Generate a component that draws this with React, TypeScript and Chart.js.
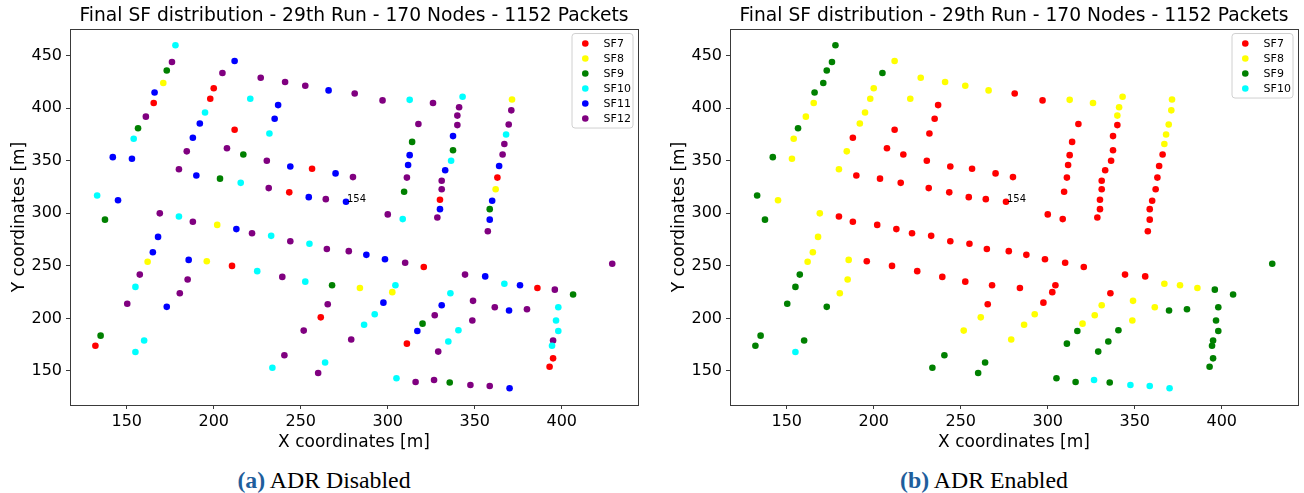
import React, { useEffect, useRef } from "react";
import { Chart, registerables } from "chart.js";

Chart.register(...registerables);

// ---------- data ----------
const nodeX = [
  178, 176, 173, 171, 166, 165.5, 161, 156.5, 154, 142, 153, 133, 145, 137.5, 169, 180, 188,
  212, 205, 200, 198, 195, 192, 188, 184.5, 180, 190, 203.6, 215.5, 231.6, 243.4, 254.6, 264.4, 276,
  227, 241, 252.6, 266, 221, 237, 235, 232, 212, 207.6, 217, 230.5, 244, 256.5, 270,
  281, 297, 312.6, 326, 343, 341, 340, 340, 337.5, 337.5, 336.4, 333, 331, 331, 330, 330, 328.5,
  317.6, 314, 312.6, 311.7, 311, 309.4, 308.6, 280, 300,
  371.4, 371, 369.5, 368, 367, 366, 364, 363, 362, 360, 358.6, 358.6, 357.5,
  202, 213, 222, 233, 244, 255, 265, 277.6,
  168, 165, 162, 157.5, 155, 150.3, 135, 132, 160, 155,
  185.6, 185, 180.5, 173,
  196, 210.5, 225, 239.4, 252.6, 268, 265.5, 261.5, 251.7, 240.6, 233.7, 264, 260, 279,
  287.7, 298.4, 310, 320.7, 429, 344.4, 356, 367, 376, 386, 396, 406.5, 398, 396.7, 398, 395, 394.4, 395, 393,
  284, 302.6, 304.4, 297.5, 292.5, 286.4,
  336, 331, 327, 320, 317, 311,
  349, 361.5, 369.7, 380, 348.6, 340.6, 334.8, 329,
  305, 316, 326.6, 335.6, 347.5, 358.6, 370,
];
const nodeY = [
  460, 444, 436, 424, 415, 405, 392, 381, 371, 353.5, 352, 317, 312.5, 294, 300, 297, 292,
  445, 433.5, 419, 409, 396, 385.5, 372, 359, 342, 336, 333, 329, 324, 320, 315.4, 313.5, 311,
  429, 425, 421.4, 417, 409, 403, 390, 376, 379.5, 362, 356, 350, 344.6, 342.4, 338,
  414, 407.5, 408, 405, 411, 401, 393, 384, 373.5, 360, 350, 341, 331, 323, 313, 304, 296,
  385, 368, 355.4, 346, 334, 320.5, 294.5, 334.5, 299,
  408.4, 398, 384.6, 375, 366, 356, 345, 334, 323, 312, 304, 294, 283,
  289, 285, 281, 278.6, 273.5, 271, 266, 264,
  277.6, 263, 254, 241.7, 230, 214, 183.6, 174, 179, 168,
  255.7, 237, 224, 211,
  254.4, 250, 245, 239.5, 235, 231.6, 213.5, 201, 188.4, 165, 153, 158, 148, 180,
  260.5, 256.3, 253, 249, 252, 241.7, 240, 233, 231.6, 229, 227.4, 222.7, 210.6, 198, 188, 179, 174, 162, 154,
  229, 225, 231.6, 215, 204, 194,
  224, 212.6, 203, 195, 188, 176,
  216.7, 210.6, 207.5, 208.7, 198, 188.7, 178, 168.4,
  143, 139.5, 141.4, 139, 136.7, 135.7, 133.5,
];
// spreading factor of every node, ADR disabled
const sfAdrDisabled = [
  10, 12, 9, 8, 11, 7, 12, 9, 10, 11, 11, 10, 11, 9, 12, 10, 12,
  11, 12, 7, 7, 10, 11, 11, 12, 12, 11, 9, 10, 12, 7, 11, 12, 11,
  12, 12, 12, 11, 10, 11, 11, 10, 7, 12, 9, 12, 11, 7, 11,
  12, 12, 10, 12, 10, 12, 12, 12, 11, 9, 10, 11, 12, 12, 7, 11, 12,
  12, 9, 11, 11, 12, 9, 10, 12, 12,
  8, 12, 12, 10, 12, 12, 11, 7, 8, 11, 9, 11, 12,
  8, 11, 12, 10, 12, 10, 12, 12,
  11, 11, 8, 12, 10, 12, 9, 7, 10, 10,
  11, 12, 12, 11,
  8, 7, 10, 12, 10, 9, 12, 7, 12, 12, 10, 10, 12, 12,
  11, 11, 12, 7, 12, 12, 11, 10, 11, 7, 12, 9, 10, 10, 10, 12, 10, 7, 7,
  8, 8, 10, 11, 10, 10,
  10, 11, 12, 9, 11, 7,
  12, 12, 11, 12, 12, 10, 10, 12,
  10, 12, 12, 9, 12, 12, 11,
];
// spreading factor of every node, ADR enabled
const sfAdrEnabled = [
  9, 9, 9, 9, 9, 8, 8, 9, 8, 9, 8, 9, 8, 9, 8, 7, 7,
  8, 9, 8, 8, 8, 8, 7, 8, 8, 7, 7, 7, 7, 7, 7, 7, 7,
  8, 8, 8, 8, 8, 7, 7, 7, 7, 7, 7, 7, 7, 7, 7,
  7, 7, 8, 8, 8, 8, 8, 7, 7, 7, 7, 7, 7, 7, 7, 7, 7,
  7, 7, 7, 7, 7, 7, 7, 7, 7,
  8, 8, 8, 8, 8, 7, 7, 7, 7, 7, 7, 7, 7,
  7, 7, 7, 7, 7, 7, 7, 7,
  8, 8, 8, 9, 9, 9, 9, 9, 9, 10,
  8, 8, 8, 9,
  7, 7, 7, 7, 7, 7, 7, 8, 8, 9, 9, 9, 9, 8,
  7, 7, 7, 7, 9, 7, 7, 8, 8, 8, 9, 9, 9, 9, 9, 9, 9, 9, 9,
  7, 7, 7, 7, 8, 8,
  7, 8, 8, 8, 9, 9,
  8, 8, 9, 9, 8, 9, 9, 9,
  9, 9, 10, 9, 10, 10, 10,
];
const sfLevels = [7, 8, 9, 10, 11, 12];
const sfColors = ["#ff0000", "#ffff00", "#008000", "#00ffff", "#0000ff", "#800080"];
const xTicks = [150, 200, 250, 300, 350, 400];
const yTicks = [150, 200, 250, 300, 350, 400, 450];
const xRange = [117.4, 443.8];
const yRange = [117.6, 475.4];
const annotatedNodes = [{ index: 33, text: "154" }];
const chartTitle = "Final SF distribution - 29th Run - 170 Nodes - 1152 Packets";

const FONT = "'DejaVu Sans', sans-serif";

// ---------- plugins ----------
const framePlugin = {
  id: "frame",
  afterDatasetsDraw(chart: any) {
    const { ctx, chartArea: a } = chart;
    ctx.save();
    ctx.strokeStyle = "#3a3a3a";
    ctx.lineWidth = 1;
    ctx.strokeRect(Math.round(a.left) + 0.5, Math.round(a.top) + 0.5, Math.round(a.right - a.left), Math.round(a.bottom - a.top));
    ctx.restore();
  },
};

const annotationPlugin = {
  id: "nodeLabels",
  afterDatasetsDraw(chart: any) {
    const { ctx, scales } = chart;
    ctx.save();
    ctx.font = `10px ${FONT}`;
    ctx.fillStyle = "#000";
    ctx.textAlign = "left";
    ctx.textBaseline = "alphabetic";
    annotatedNodes.forEach((n) => {
      const px = scales.x.getPixelForValue(nodeX[n.index]);
      const py = scales.y.getPixelForValue(nodeY[n.index]);
      ctx.fillText(n.text, px + 1, py);
    });
    ctx.restore();
  },
};

const insideLegendPlugin = {
  id: "insideLegend",
  afterDraw(chart: any) {
    const { ctx, chartArea: a } = chart;
    const ds = chart.data.datasets;
    const rowH = 15;
    const w = 61;
    const h = ds.length * rowH + 4.5;
    const right = a.right - 5;
    const left = right - w;
    const top = a.top + 4.5;
    const r = 3;
    ctx.save();
    ctx.beginPath();
    ctx.moveTo(left + r, top);
    ctx.lineTo(left + w - r, top);
    ctx.quadraticCurveTo(left + w, top, left + w, top + r);
    ctx.lineTo(left + w, top + h - r);
    ctx.quadraticCurveTo(left + w, top + h, left + w - r, top + h);
    ctx.lineTo(left + r, top + h);
    ctx.quadraticCurveTo(left, top + h, left, top + h - r);
    ctx.lineTo(left, top + r);
    ctx.quadraticCurveTo(left, top, left + r, top);
    ctx.closePath();
    ctx.fillStyle = "rgba(255,255,255,0.8)";
    ctx.fill();
    ctx.strokeStyle = "#d0d0d0";
    ctx.lineWidth = 1;
    ctx.stroke();
    ctx.font = `11px ${FONT}`;
    ctx.textAlign = "left";
    ctx.textBaseline = "middle";
    ds.forEach((d: any, i: number) => {
      const cy = top + 10 + i * rowH;
      ctx.beginPath();
      ctx.arc(left + 13.3, cy, 3.3, 0, Math.PI * 2);
      ctx.fillStyle = d.backgroundColor;
      ctx.fill();
      ctx.fillStyle = "#000";
      ctx.fillText(d.label, left + 31.6, cy + 0.5);
    });
    ctx.restore();
  },
};

// ---------- components ----------
function ScatterPanel({ sf, left }: { sf: number[]; left: number }) {
  const ref = useRef<HTMLCanvasElement>(null);
  useEffect(() => {
    const levels = sfLevels.filter((l) => sf.includes(l));
    const datasets = levels.map((l) => {
      const c = sfColors[sfLevels.indexOf(l)];
      return {
        label: "SF" + l,
        data: nodeX.map((x, i) => ({ x, y: nodeY[i] })).filter((_, i) => sf[i] === l),
        backgroundColor: c,
        borderColor: c,
        borderWidth: 0,
        pointRadius: 3.3,
        pointHoverRadius: 3.3,
      };
    });
    const axisCommon = {
      type: "linear" as const,
      grid: {
        display: true,
        drawOnChartArea: false,
        drawTicks: true,
        tickLength: 4,
        color: "#3a3a3a",
        tickColor: "#3a3a3a",
      },
      border: { display: false },
    };
    const chart = new Chart(ref.current!, {
      type: "scatter",
      data: { datasets },
      options: {
        animation: false,
        responsive: false,
        maintainAspectRatio: false,
        devicePixelRatio: 1,
        events: [],
        layout: { padding: { left: 0, right: 22, top: 0, bottom: 0 } },
        plugins: {
          legend: { display: false },
          tooltip: { enabled: false },
          title: {
            display: true,
            fullSize: false,
            text: chartTitle,
            color: "#000",
            font: { family: FONT, size: 18.7, weight: "normal" },
            padding: { top: 5, bottom: 1.6 },
          },
        },
        scales: {
          x: {
            ...axisCommon,
            position: "bottom",
            min: xRange[0],
            max: xRange[1],
            afterBuildTicks: (s: any) => {
              s.ticks = xTicks.map((v) => ({ value: v }));
            },
            afterFit: (s: any) => {
              s.height = 55;
            },
            ticks: { color: "#000", font: { family: FONT, size: 16 }, padding: 3, maxRotation: 0, autoSkip: false },
            title: {
              display: true,
              text: "X coordinates [m]",
              color: "#000",
              font: { family: FONT, size: 17 },
              padding: { top: 0, bottom: 7 },
            },
          },
          y: {
            ...axisCommon,
            position: "left",
            min: yRange[0],
            max: yRange[1],
            afterBuildTicks: (s: any) => {
              s.ticks = yTicks.map((v) => ({ value: v }));
            },
            afterFit: (s: any) => {
              s.width = 70;
            },
            ticks: { color: "#000", font: { family: FONT, size: 16 }, padding: 4, autoSkip: false },
            title: {
              display: true,
              text: "Y coordinates [m]",
              color: "#000",
              font: { family: FONT, size: 17 },
              padding: { top: 9, bottom: 0 },
            },
          },
        },
      } as any,
      plugins: [framePlugin, annotationPlugin, insideLegendPlugin],
    });
    return () => chart.destroy();
  }, [sf]);
  return (
    <canvas
      ref={ref}
      width={660}
      height={460}
      style={{ position: "absolute", left, top: 0, width: 660, height: 460 }}
    />
  );
}

function Caption({ left, tag, text }: { left: number; tag: string; text: string }) {
  return (
    <div
      style={{
        position: "absolute",
        left,
        top: 466,
        width: 648,
        textAlign: "center",
        fontFamily: "'Liberation Serif', 'Times New Roman', serif",
        fontSize: 23.8,
        lineHeight: "28px",
        color: "#000",
        whiteSpace: "nowrap",
      }}
    >
      <span style={{ color: "#1f5e9c", fontWeight: "bold" }}>{tag}</span> {text}
    </div>
  );
}

export default function App() {
  return (
    <div
      style={{
        position: "absolute",
        left: 0,
        top: 0,
        width: 1304,
        height: 493,
        background: "#fff",
        overflow: "hidden",
      }}
    >
      <ScatterPanel sf={sfAdrDisabled} left={0} />
      <ScatterPanel sf={sfAdrEnabled} left={660} />
      <Caption left={0} tag="(a)" text="ADR Disabled" />
      <Caption left={660} tag="(b)" text="ADR Enabled" />
    </div>
  );
}
